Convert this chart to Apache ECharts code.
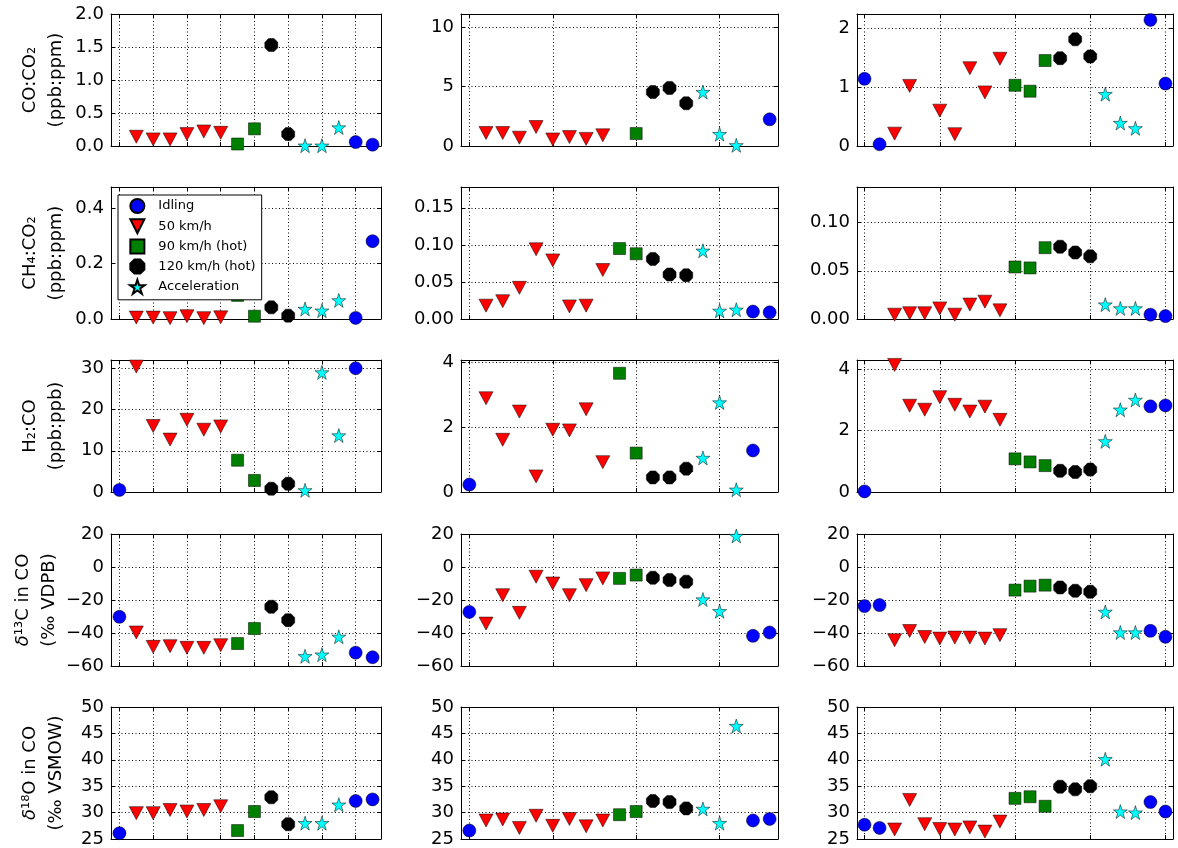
<!DOCTYPE html>
<html><head><meta charset="utf-8">
<script src="https://cdn.jsdelivr.net/npm/echarts@6/dist/echarts.min.js"></script>
<style>html,body{margin:0;padding:0;background:#fff}#c{width:1178px;height:848px}</style>
</head><body><div id="c"></div>
<script>
const seriesNames = ['Idling', '50 km/h', '90 km/h (hot)', '120 km/h (hot)', 'Acceleration'];

// group (index into seriesNames) of each x position, per column
const groupsCol1 = [0,1,1,1,1,1,1,2,2,3,3,4,4,4,0,0];
const groupsCol2 = [0,1,1,1,1,1,1,1,1,2,2,3,3,3,4,4,4,0,0];
const groupsCol3 = [0,0,1,1,1,1,1,1,1,1,2,2,2,3,3,3,4,4,4,0,0];

// CO:CO2 (ppb:ppm)
const coCo2Col1 = [null,0.14,0.10,0.10,0.18,0.22,0.20,0.03,0.26,1.53,0.18,0.005,0.005,0.28,0.06,0.02];
const coCo2Col2 = [null,1.1,1.1,0.7,1.6,0.55,0.75,0.6,0.9,null,1.05,4.55,4.9,3.6,4.55,1.0,0.06,null,2.25];
const coCo2Col3 = [1.14,0.03,0.21,1.02,null,0.6,0.2,1.32,0.91,1.48,1.03,0.93,1.45,1.49,1.81,1.52,0.88,0.39,0.3,2.14,1.06];
// CH4:CO2 (ppb:ppm)
const ch4Co2Col1 = [null,0.005,0.005,0.003,0.01,0.003,0.006,0.085,0.01,0.042,0.012,0.036,0.03,0.067,0.004,0.28];
const ch4Co2Col2 = [null,0.018,0.024,0.042,0.094,0.079,0.017,0.018,0.066,0.095,0.088,0.081,0.06,0.059,0.092,0.011,0.0125,0.01,0.009];
const ch4Co2Col3 = [null,null,0.0045,0.006,0.006,0.011,0.0045,0.015,0.018,0.009,0.054,0.053,0.074,0.075,0.069,0.065,0.015,0.011,0.011,0.0045,0.003];
// H2:CO (ppb:ppb)
const h2CoCol1 = [0.5,30.4,16.0,12.7,17.5,15.1,15.9,7.7,2.8,0.8,2.0,0.4,29.0,13.7,30.0,null];
const h2CoCol2 = [0.23,2.89,1.61,2.48,0.48,1.92,1.9,2.55,0.92,3.66,1.2,0.45,0.45,0.72,1.05,2.76,0.07,1.28,null];
const h2CoCol3 = [0.02,4.4,4.14,2.81,2.68,3.09,2.84,2.62,2.78,2.35,1.08,0.98,0.86,0.69,0.65,0.73,1.65,2.68,3.0,2.79,2.82];
// d13C in CO
const d13cCol1 = [-30.2,-39.7,-48.4,-48,-49,-49,-47.4,-46.4,-37.3,-24.1,-32.2,-54.1,-53.1,-42.3,-51.9,-54.7];
const d13cCol2 = [-27.2,-34.3,-17.1,-27.8,-5.9,-10,-17.1,-11,-6.9,-6.9,-4.9,-6.5,-7.9,-8.9,-19.7,-26.8,18.8,-41.7,-39.7];
const d13cCol3 = [-23.7,-23.1,-44.4,-38.8,-42.4,-43.4,-42.8,-42.8,-43.4,-41.3,-14,-11.6,-11,-12.4,-14.4,-15,-27.2,-39.7,-39.7,-38.7,-42.3];
// d18O in CO
const d18oCol1 = [26.1,29.9,29.9,30.5,30.2,30.5,31.2,26.6,30.2,32.9,27.8,28.0,28.0,31.5,32.2,32.5];
const d18oCol2 = [26.6,28.5,28.7,27.1,29.4,27.5,28.8,27.4,28.5,29.6,30.2,32.2,32.0,30.8,30.7,28.0,46.4,28.5,28.8];
const d18oCol3 = [27.7,27.1,26.8,32.4,27.8,26.9,26.8,27.2,26.4,28.3,32.7,33.0,31.2,34.9,34.4,35.0,40.1,30.2,30.0,32.0,30.2];

const yNames = ['CO:CO\u2082\n(ppb:ppm)', 'CH\u2084:CO\u2082\n(ppb:ppm)', 'H\u2082:CO\n(ppb:ppb)',
                '{i|\u03b4}\u00b9\u00b3C in CO\n(\u2030 VDPB)', '{i|\u03b4}\u00b9\u2078O in CO\n(\u2030 VSMOW)'];
const xTicksCol1 = [0,2,4,6,8,10,12,14];
const xTicksCol2 = [0,5,10,15];
const xTicksCol3 = [0,5,10,15,20];

// layout
const colLeft = [111, 461, 857], colRight = [381, 778, 1173];
const rowTop = [14, 187, 360, 534, 707], rowBottom = [146, 319, 492, 666, 840];

const panels = [
  [coCo2Col1, coCo2Col2, coCo2Col3],
  [ch4Co2Col1, ch4Co2Col2, ch4Co2Col3],
  [h2CoCol1, h2CoCol2, h2CoCol3],
  [d13cCol1, d13cCol2, d13cCol3],
  [d18oCol1, d18oCol2, d18oCol3]
];
const groups = [groupsCol1, groupsCol2, groupsCol3];
const xTicks = [xTicksCol1, xTicksCol2, xTicksCol3];
// y scale per row/col: [min, max, interval, decimals]
const yScale = [
  [[0,2.0,0.5,1],[0,11.13,5,0],[0,2.24,1,0]],
  [[0,0.475,0.2,1],[0,0.178,0.05,2],[0,0.137,0.05,2]],
  [[0,32,10,0],[0,4.07,2,0],[0,4.3,2,0]],
  [[-60,20,20,0],[-60,20,20,0],[-60,20,20,0]],
  [[25,50,5,0],[25,50,5,0],[25,50,5,0]]
];

const symbols = [
  'circle',
  'path://M-1,-1L1,-1L0,1Z',
  'path://M-1,-1L1,-1L1,1L-1,1Z',
  'path://M0.924,0.383L0.383,0.924L-0.383,0.924L-0.924,0.383L-0.924,-0.383L-0.383,-0.924L0.383,-0.924L0.924,-0.383Z',
  'path://M0,-1L0.2245,-0.309L0.9511,-0.309L0.3633,0.118L0.5878,0.809L0,0.382L-0.5878,0.809L-0.3633,0.118L-0.9511,-0.309L-0.2245,-0.309Z'
];
const symbolSizes = [13, [14, 13], 12, 13, 14];
const colors = ['#0000ff', '#ff0000', '#008000', '#000000', '#00ffff'];

const FONT = 'DejaVu Sans';
const gridOpt = [], xAxes = [], yAxes = [], series = [];
const dotted = {color: '#000', width: 1, type: [1, 2.5]};
const frame = {color: '#000', width: 1};

for (let r = 0; r < 5; r++) {
  for (let c = 0; c < 3; c++) {
    const gi = r * 3 + c;
    const n = groups[c].length;
    gridOpt.push({left: colLeft[c], top: rowTop[r], width: colRight[c] - colLeft[c], height: rowBottom[r] - rowTop[r]});
    const xBase = {gridIndex: gi, type: 'value', min: -0.5, max: n - 0.5,
      axisLine: {show: true, onZero: false, lineStyle: frame},
      axisLabel: {show: false}};
    xAxes.push(Object.assign({}, xBase, {position: 'bottom',
      axisTick: {show: true, inside: true, length: 4, customValues: xTicks[c], lineStyle: frame},
      splitLine: {show: true, lineStyle: dotted}}));
    xAxes.push(Object.assign({}, xBase, {position: 'top',
      axisTick: {show: true, inside: true, length: 4, customValues: xTicks[c], lineStyle: frame},
      splitLine: {show: false}}));
    const [mn, mx, iv, dec] = yScale[r][c];
    const fmt = v => {
      const k = v / iv;
      if (Math.abs(k - Math.round(k)) > 1e-6) return '';
      return v.toFixed(dec).replace('-', '\u2212');
    };
    yAxes.push({gridIndex: gi, type: 'value', position: 'left', min: mn, max: mx, interval: iv,
      axisLine: {show: true, onZero: false, lineStyle: frame},
      axisTick: {show: true, inside: true, length: 4, lineStyle: frame},
      axisLabel: {show: true, fontSize: 18, color: '#000', fontFamily: FONT, margin: 7, formatter: fmt, showMaxLabel: true},
      splitLine: {show: true, lineStyle: dotted},
      name: c === 0 ? yNames[r] : '',
      nameLocation: 'middle', nameRotate: 90, nameGap: 42,
      nameTextStyle: {fontSize: 18, color: '#000', fontFamily: FONT, lineHeight: 26,
        rich: {i: {fontSize: 18, color: '#000', fontFamily: FONT, fontStyle: 'italic', lineHeight: 26}}}
    });
    yAxes.push({gridIndex: gi, type: 'value', position: 'right', min: mn, max: mx, interval: iv,
      axisLine: {show: true, onZero: false, lineStyle: frame},
      axisTick: {show: true, inside: true, length: 4, lineStyle: frame},
      axisLabel: {show: false}, splitLine: {show: false}});
    const vals = panels[r][c];
    for (let g = 0; g < 5; g++) {
      const data = [];
      for (let x = 0; x < n; x++) {
        if (groups[c][x] === g && vals[x] !== null) data.push([x, vals[x]]);
      }
      series.push({type: 'scatter', name: seriesNames[g], xAxisIndex: gi * 2, yAxisIndex: gi * 2,
        data: data, symbol: symbols[g], symbolSize: symbolSizes[g],
        itemStyle: {color: colors[g], borderColor: '#000', borderWidth: 0.5, opacity: 1},
        emphasis: {disabled: true}, z: 3});
    }
  }
}

const chart = echarts.init(document.getElementById('c'), null, {renderer: 'canvas'});
chart.setOption({
  animation: false,
  backgroundColor: '#fff',
  grid: gridOpt,
  xAxis: xAxes,
  yAxis: yAxes,
  legend: {data: seriesNames, orient: 'vertical', left: 118, top: 195,
    itemWidth: 32, itemHeight: 14, itemGap: 4.2, padding: [3, 6, 5, 11],
    backgroundColor: '#fff', borderColor: '#000', borderWidth: 1, borderRadius: 0,
    textStyle: {fontSize: 13, color: '#000', fontFamily: FONT}, z: 10,
    selectedMode: false},
  series: series
});
</script></body></html>
